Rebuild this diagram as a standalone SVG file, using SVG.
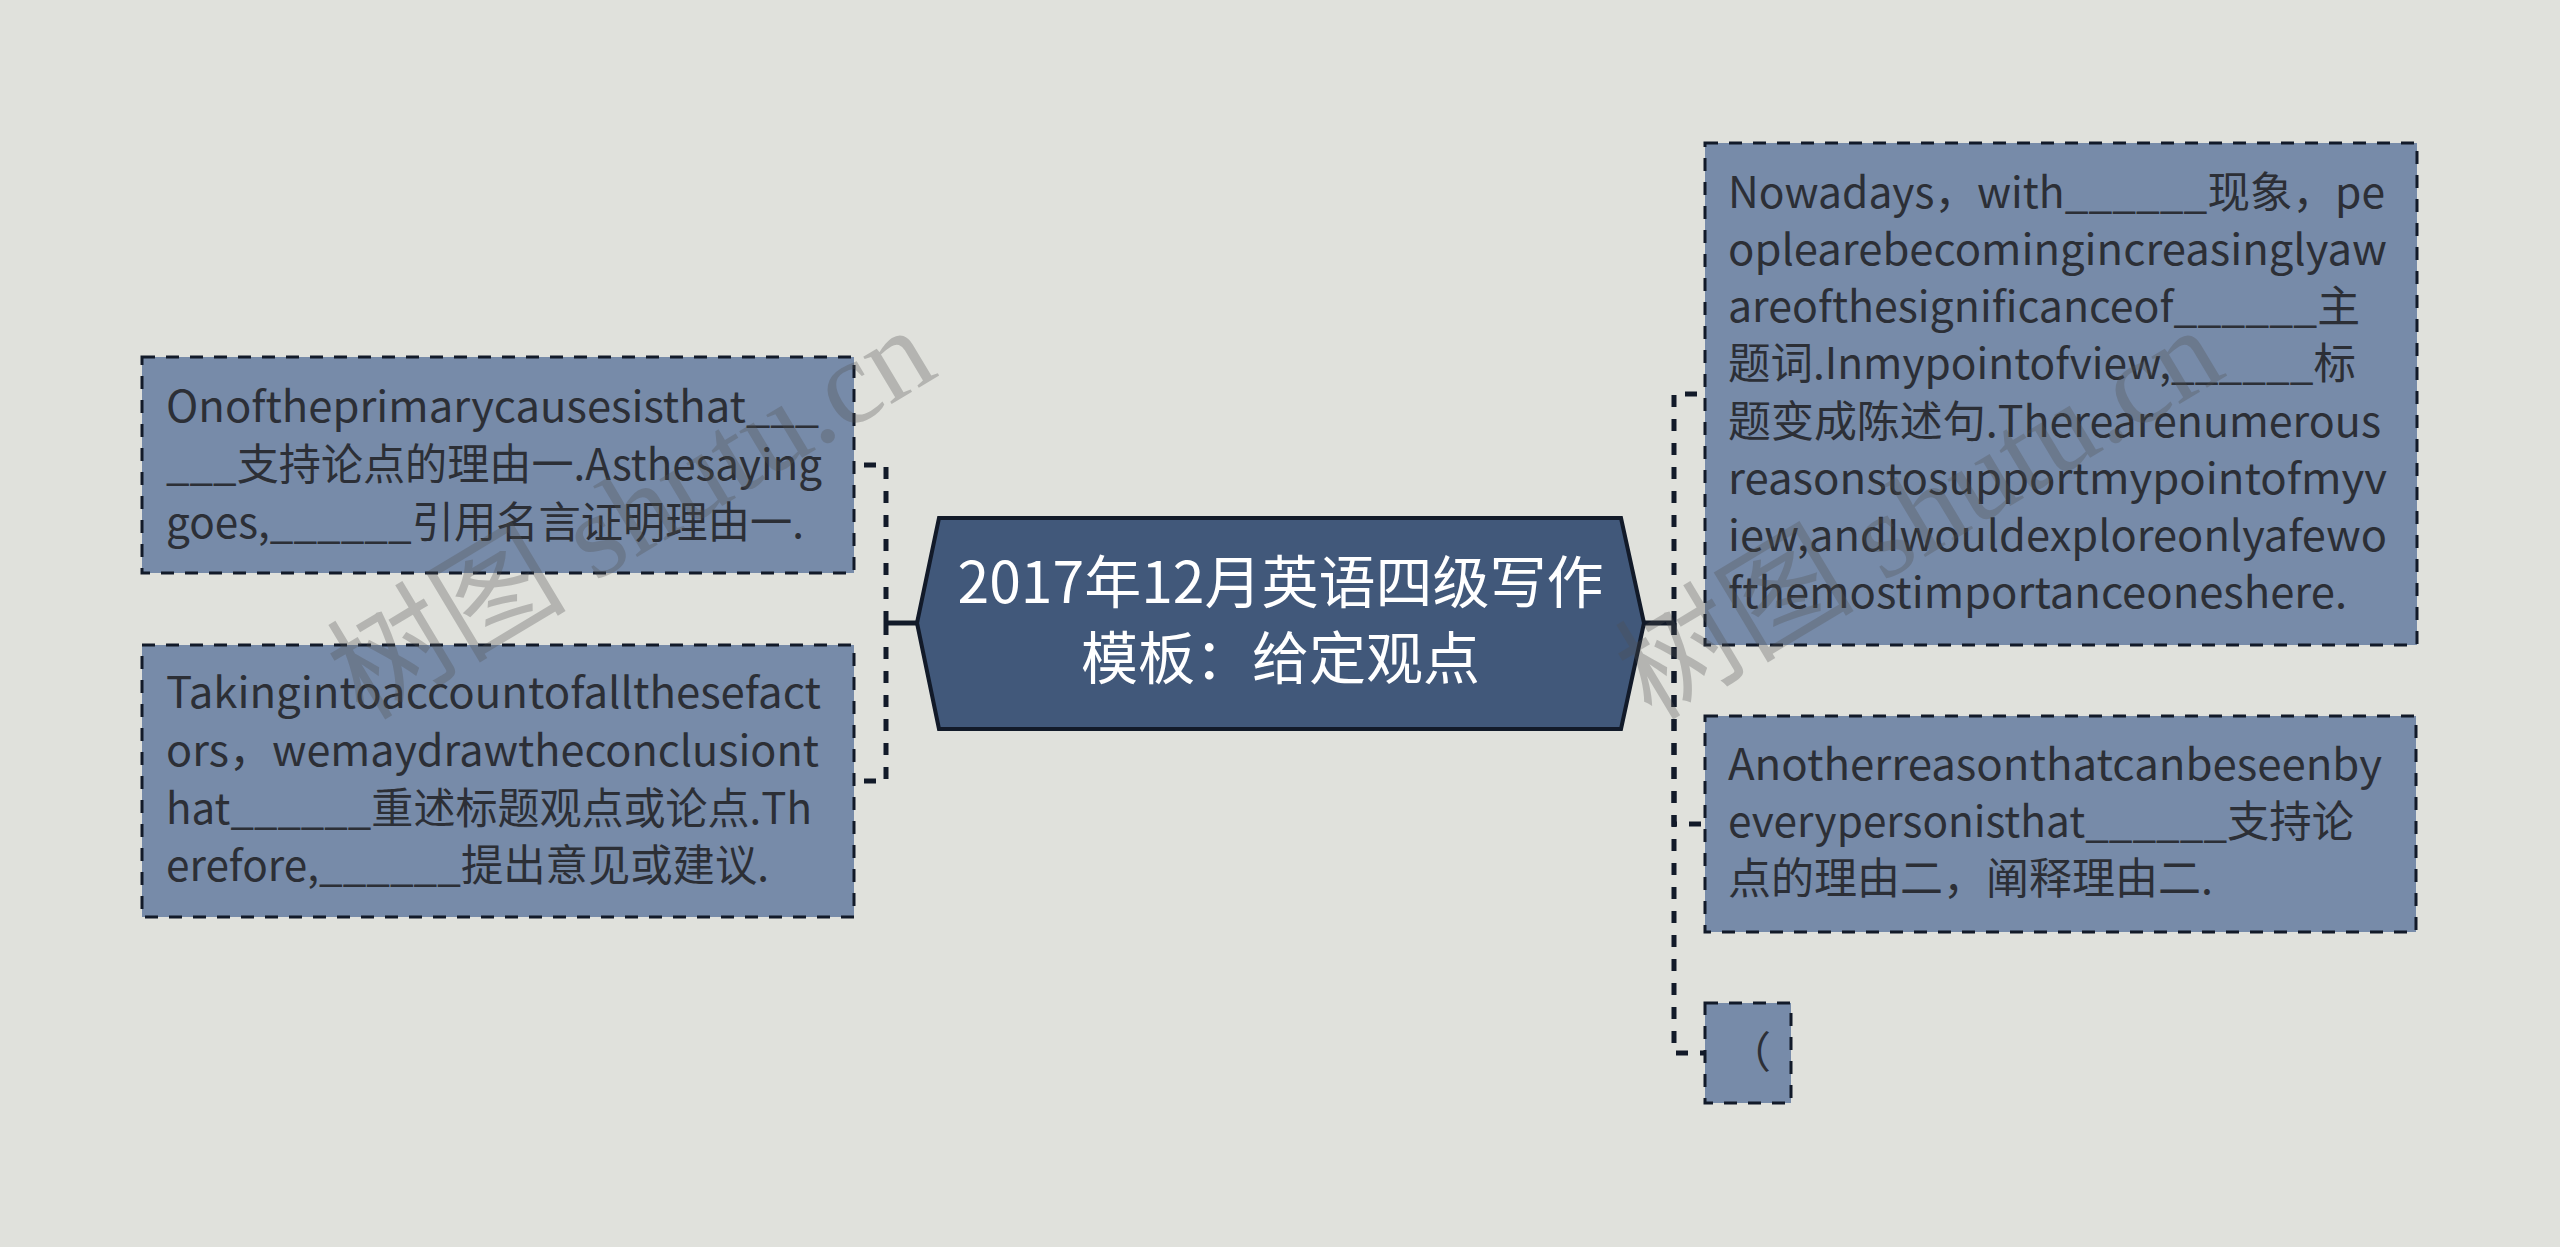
<svg xmlns="http://www.w3.org/2000/svg" width="2560" height="1247" viewBox="0 0 2560 1247">
<style>
.bg{fill:#e0e1dc}
.node{fill:#778ba9;stroke:#121a29;stroke-width:3;stroke-dasharray:13 11}
.center{fill:#41587a;stroke:#121a29;stroke-width:4;stroke-linejoin:miter}
.t{font-family:"Noto Sans CJK SC","Microsoft YaHei",sans-serif;font-size:43px;fill:#2c2f36}
.ct{font-family:"Noto Sans CJK SC","Microsoft YaHei",sans-serif;font-size:57px;fill:#ffffff;text-anchor:middle}
.solid{fill:none;stroke:#121a29;stroke-width:5}
.dash{fill:none;stroke:#121a29;stroke-width:5;stroke-dasharray:12 12}
.wm{font-family:"Liberation Serif","Noto Sans CJK SC",serif;font-size:120px;fill:#505050;opacity:0.3;text-anchor:middle}
</style>
<rect class="bg" x="0" y="0" width="2560" height="1247"/>
<g id="connectors">
<path class="solid" d="M917 623 H886"/>
<path class="dash" d="M886 623 V465 H854"/>
<path class="dash" d="M886 623 V781 H854"/>
<path class="solid" d="M1644 623 H1674"/>
<path class="dash" d="M1674 623 V394 H1705"/>
<path class="dash" d="M1674 623 V824 H1705"/>
<path class="dash" d="M1674 623 V1053 H1705"/>
</g>
<g id="center">
<polygon class="center" points="917,623 939,518 1621,518 1644,623 1621,729 939,729"/>
<text class="ct" x="1280.5" y="603">2017年12月英语四级写作</text>
<text class="ct" x="1280.5" y="679">模板：给定观点</text>
</g>
<g id="node-l1">
<rect class="node" x="142" y="357" width="712" height="216"/>
<text class="t" x="166" y="422" textLength="653" lengthAdjust="spacingAndGlyphs">Onoftheprimarycausesisthat___</text>
<text class="t" x="166" y="480" textLength="656" lengthAdjust="spacingAndGlyphs">___支持论点的理由一.Asthesaying</text>
<text class="t" x="166" y="538" textLength="638" lengthAdjust="spacingAndGlyphs">goes,______引用名言证明理由一.</text>
</g>
<g id="node-l2">
<rect class="node" x="142" y="645" width="712" height="272"/>
<text class="t" x="166" y="708" textLength="655" lengthAdjust="spacingAndGlyphs">Takingintoaccountofallthesefact</text>
<text class="t" x="166" y="766" textLength="653" lengthAdjust="spacingAndGlyphs">ors，wemaydrawtheconclusiont</text>
<text class="t" x="166" y="824" textLength="646" lengthAdjust="spacingAndGlyphs">hat______重述标题观点或论点.Th</text>
<text class="t" x="166" y="881" textLength="603" lengthAdjust="spacingAndGlyphs">erefore,______提出意见或建议.</text>
</g>
<g id="node-r1">
<rect class="node" x="1705" y="143" width="712" height="502"/>
<text class="t" x="1728" y="208" textLength="657" lengthAdjust="spacingAndGlyphs">Nowadays，with______现象，pe</text>
<text class="t" x="1728" y="265" textLength="659" lengthAdjust="spacingAndGlyphs">oplearebecomingincreasinglyaw</text>
<text class="t" x="1728" y="322" textLength="632" lengthAdjust="spacingAndGlyphs">areofthesignificanceof______主</text>
<text class="t" x="1728" y="379" textLength="628" lengthAdjust="spacingAndGlyphs">题词.Inmypointofview,______标</text>
<text class="t" x="1728" y="437" textLength="653" lengthAdjust="spacingAndGlyphs">题变成陈述句.Therearenumerous</text>
<text class="t" x="1728" y="494" textLength="659" lengthAdjust="spacingAndGlyphs">reasonstosupportmypointofmyv</text>
<text class="t" x="1728" y="551" textLength="659" lengthAdjust="spacingAndGlyphs">iew,andIwouldexploreonlyafewo</text>
<text class="t" x="1728" y="608" textLength="619" lengthAdjust="spacingAndGlyphs">fthemostimportanceoneshere.</text>
</g>
<g id="node-r2">
<rect class="node" x="1705" y="716" width="711" height="216"/>
<text class="t" x="1728" y="780" textLength="654" lengthAdjust="spacingAndGlyphs">Anotherreasonthatcanbeseenby</text>
<text class="t" x="1728" y="837" textLength="626" lengthAdjust="spacingAndGlyphs">everypersonisthat______支持论</text>
<text class="t" x="1728" y="894">点的理由二，阐释理由二.</text>
</g>
<g id="node-r3">
<rect class="node" x="1705" y="1003" width="86" height="100"/>
<text class="t" x="1728" y="1068">（</text>
</g>
<g id="watermark">
<text class="wm" transform="translate(652,548) rotate(-31)">树图 shutu.cn</text>
<text class="wm" transform="translate(1940,548) rotate(-31)">树图 shutu.cn</text>
</g>
</svg>
